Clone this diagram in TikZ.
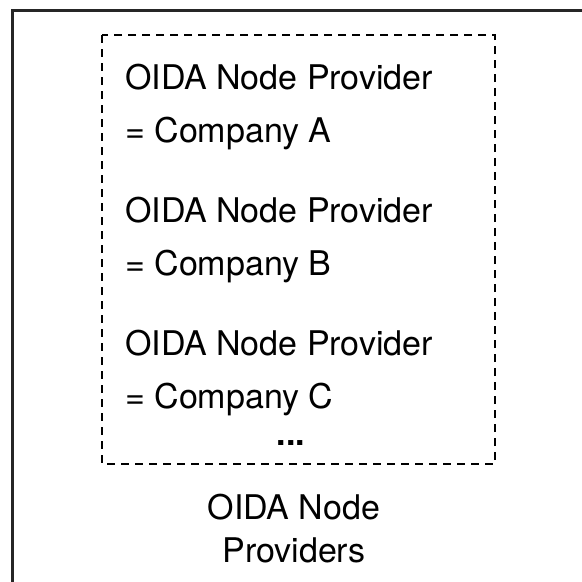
\documentclass[tikz,border=0pt]{standalone}
\usepackage{fontspec}
\setmainfont{TeX Gyre Heros}
\begin{document}
\begin{tikzpicture}[
        x = 1pt, y = -1pt,
        every node/.style = {inner sep = 0pt, font = \fontsize{34}{43}\selectfont},
        line/.style = {anchor = base west},
        dashbox/.style = {draw, line width = 2pt, dash pattern = on 8pt off 6pt},
        ]
        \useasboundingbox (0,0) rectangle (582,582);
        \clip (0,0) rectangle (582,582);
        \draw[line width = 3pt, black!85] (12,10) rectangle (600,600);
        \draw[dashbox] (102,35) rectangle (495,464);
        \foreach \c/\y in {A/89, B/222, C/355} {
            \node[line] (prov\c) at (125,\y) {OIDA Node Provider};
            \node[line] (comp\c) at (125,\y+53) {= Company \c};
        }
        \node[anchor = base] (dots) at (291,445) {\textbf{...}};
        \node[align = center, anchor = base] (label) at (294,562) {OIDA Node\\Providers};
    \end{tikzpicture}
\end{document}
